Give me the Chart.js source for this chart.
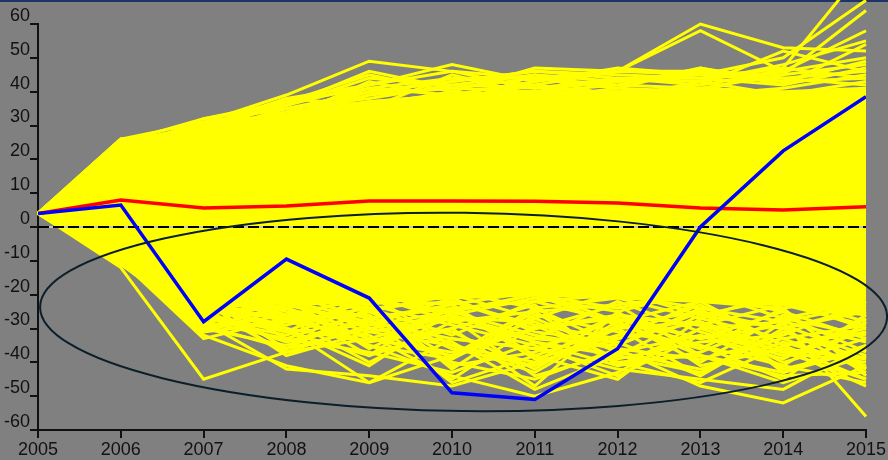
<!DOCTYPE html>
<html>
<head>
<meta charset="utf-8">
<script src="https://cdn.jsdelivr.net/npm/chart.js@4/dist/chart.umd.min.js"></script>
<style>
  html, body { margin: 0; padding: 0; background: #808080; }
  canvas { display: block; }
</style>
</head>
<body>
<canvas id="simChart" width="888" height="460"></canvas>
<script>
const years = [2005, 2006, 2007, 2008, 2009, 2010, 2011, 2012, 2013, 2014, 2015];

// mean of all simulations (red)
const meanPath = [4, 8, 5.6, 6.2, 7.7, 7.7, 7.6, 7.1, 5.6, 5, 6];
// one selected simulation (blue)
const highlightPath = [4, 6.5, -28, -9.5, -21, -49, -51, -36, 0, 22.5, 38.5];

// dense core of the simulations
const coreUpper = [4, 25, 30, 33, 37, 39, 40, 40, 41, 40, 41];
const coreLower = [4, -8, -24, -22, -22, -21, -20, -21, -22, -23, -26];

// simulations above the core
const upperPaths = [
  [4, 26, 31, 39, 49, 46, 44, 46, 45, 43, 44],
  [4, 25, 32, 37, 45, 40, 47, 46, 46, 44, 46],
  [4, 23, 30, 36, 42, 48, 43, 46, 60, 53, 52],
  [4, 22, 29, 34, 41, 44, 42, 46, 58, 46, 58],
  [4, 24, 27, 33, 40, 43, 46, 44, 44, 47, 77],
  [4, 21, 28, 35, 38, 42, 41, 43, 45, 50, 67],
  [4, 20, 31, 33, 39, 41, 44, 42, 41, 45, 64],
  [4, 26, 26, 30, 37, 39, 40, 44, 43, 48, 55],
  [4, 22, 30, 38, 36, 40, 38, 41, 47, 42, 54],
  [4, 19, 27, 32, 43, 38, 42, 39, 42, 52, 46],
  [4, 23, 28, 31, 35, 45, 39, 40, 39, 41, 45],
  [4, 25, 29, 34, 37, 36, 45, 38, 43, 39, 43],
  [4, 24, 30, 36, 44, 42, 45, 43, 46, 45, 48],
  [4, 25, 29, 38, 42, 46, 41, 44, 42, 46, 50],
  [4, 23, 31, 35, 40, 43, 46, 45, 44, 42, 47],
  [4, 26, 28, 37, 41, 39, 43, 47, 45, 44, 42],
  [4, 22, 32, 36, 46, 41, 40, 42, 47, 43, 49],
  [4, 24, 29, 33, 39, 44, 44, 41, 40, 47, 44]
];

// simulations below the core
const lowerPaths = [
  [4, -12, -45, -37, -29, -25, -20, -24, -19, -22, -30],
  [4, -10, -32, -41, -46, -38, -30, -27, -33, -29, -38],
  [4, -9, -28, -42, -44, -47, -40, -33, -22, -35, -45],
  [4, -8, -30, -26, -35, -44, -50, -43, -30, -28, -56],
  [4, -7, -25, -34, -28, -40, -45, -36, -47, -52, -41],
  [4, -11, -27, -30, -46, -33, -36, -42, -45, -48, -35],
  [4, -6, -22, -28, -32, -45, -29, -40, -38, -44, -43],
  [4, -9, -31, -24, -38, -30, -47, -25, -41, -36, -47],
  [4, -5, -20, -33, -25, -36, -41, -30, -28, -40, -33],
  [4, -8, -26, -22, -30, -26, -34, -38, -43, -31, -39],
  [4, -10, -24, -29, -22, -42, -26, -31, -35, -45, -28],
  [4, -7, -29, -20, -27, -23, -38, -45, -27, -33, -42],
  [4, -6, -21, -36, -24, -32, -22, -28, -40, -26, -37],
  [4, -9, -23, -27, -40, -28, -33, -22, -31, -38, -31],
  [4, -8, -19, -25, -33, -38, -24, -35, -25, -42, -36],
  [4, -7, -26, -31, -20, -35, -43, -29, -36, -24, -44],
  [4, -5, -18, -23, -29, -21, -31, -34, -44, -30, -25],
  [4, -10, -33, -27, -26, -41, -37, -26, -29, -37, -40],
  [4, -9, -22, -38, -31, -27, -28, -39, -34, -32, -22],
  [4, -6, -24, -21, -36, -24, -39, -32, -23, -35, -30],
  [4, -8, -24, -30, -34, -27, -44, -37, -32, -41, -46],
  [4, -7, -28, -33, -37, -43, -34, -41, -37, -27, -32],
  [4, -10, -30, -35, -27, -31, -42, -28, -38, -43, -36],
  [4, -6, -21, -26, -35, -39, -27, -37, -42, -34, -41],
  [4, -9, -27, -32, -23, -29, -35, -44, -32, -39, -27],
  [4, -8, -25, -24, -33, -37, -30, -23, -38, -46, -38],
  [4, -11, -29, -36, -30, -34, -48, -38, -26, -30, -43],
  [4, -7, -23, -30, -41, -25, -32, -36, -39, -33, -29],
  [4, -6, -20, -27, -34, -30, -23, -41, -30, -37, -45],
  [4, -9, -26, -34, -27, -46, -38, -30, -44, -28, -34],
  [4, -8, -30, -23, -28, -33, -36, -27, -35, -41, -26],
  [4, -7, -22, -31, -38, -22, -29, -33, -28, -36, -39],
  [4, -10, -31, -28, -24, -39, -25, -40, -46, -35, -31],
  [4, -6, -19, -24, -31, -35, -40, -26, -33, -25, -42],
  [4, -9, -24, -37, -33, -26, -33, -35, -24, -43, -35],
  [4, -8, -20, -24, -19, -26, -21, -25, -19, -27, -22],
  [4, -7, -23, -19, -25, -20, -27, -19, -26, -21, -28],
  [4, -9, -19, -26, -21, -23, -19, -28, -22, -24, -20],
  [4, -6, -25, -21, -23, -19, -24, -21, -27, -19, -26],
  [4, -8, -21, -22, -27, -24, -22, -20, -24, -28, -23],
  [4, -7, -24, -27, -20, -28, -25, -23, -20, -25, -33],
  [4, -9, -22, -20, -24, -22, -30, -26, -29, -23, -29],
  [4, -6, -26, -23, -22, -25, -20, -29, -25, -30, -24]
];

const zeroLine = [0, 0];
const zeroYears = [2005, 2015];

const YELLOW = '#ffff00';
const toPoints = (xs, vals) => xs.map((x, i) => ({ x: x, y: vals[i] }));

const datasets = [];
datasets.push({ data: toPoints(years, highlightPath), borderColor: '#0000ff', borderWidth: 3.5, order: 0 });
datasets.push({ data: toPoints(years, meanPath), borderColor: '#ff0000', borderWidth: 3.5, order: 1 });
datasets.push({ data: toPoints(zeroYears, zeroLine), borderColor: '#000000', borderWidth: 2, borderDash: [11, 4], order: 2 });
datasets.push({ data: toPoints(zeroYears, zeroLine), borderColor: '#c4c4c4', borderWidth: 2, order: 3 });
upperPaths.concat(lowerPaths).forEach(p => {
  datasets.push({ data: toPoints(years, p), borderColor: YELLOW, borderWidth: 3, order: 10, clip: false });
});
const lowerIndex = datasets.length + 1;
datasets.push({ data: toPoints(years, coreUpper), borderColor: YELLOW, borderWidth: 3, backgroundColor: YELLOW,
  fill: { target: lowerIndex }, order: 20 });
datasets.push({ data: toPoints(years, coreLower), borderColor: YELLOW, borderWidth: 3, order: 21 });

// oval marked over the lower part of the chart (in data units)
const oval = { year: 2010.14, value: -25.1, halfYears: 5.115, halfValue: 29.3, tilt: 0.012 };

const backdrop = {
  id: 'backdrop',
  beforeDraw(chart) {
    const c = chart.ctx;
    c.save();
    c.fillStyle = '#808080';
    c.fillRect(0, 0, chart.width, chart.height);
    c.fillStyle = '#1c3466';
    c.fillRect(0, 0, chart.width, 2);
    c.restore();
  }
};

const ovalMark = {
  id: 'ovalMark',
  afterDatasetsDraw(chart) {
    const xs = chart.scales.x, ys = chart.scales.y;
    const cx = xs.getPixelForValue(oval.year);
    const cy = ys.getPixelForValue(oval.value);
    const rx = xs.getPixelForValue(oval.year + oval.halfYears) - cx;
    const ry = cy - ys.getPixelForValue(oval.value + oval.halfValue);
    const c = chart.ctx;
    c.save();
    c.strokeStyle = '#0b1e2a';
    c.lineWidth = 2;
    c.beginPath();
    c.ellipse(cx, cy, rx, ry, oval.tilt, 0, Math.PI * 2);
    c.stroke();
    c.restore();
  }
};

const tickFont = { family: '"Liberation Sans", Arial, sans-serif', size: 18 };
const axisGrid = { drawOnChartArea: false, drawTicks: true, tickLength: 8, color: '#111', lineWidth: 2 };

new Chart(document.getElementById('simChart').getContext('2d'), {
  type: 'line',
  data: { datasets: datasets },
  options: {
    responsive: false,
    animation: false,
    events: [],
    layout: { padding: { top: 24, right: 22, left: 0, bottom: 0 } },
    elements: { point: { radius: 0 }, line: { tension: 0 } },
    plugins: { legend: { display: false }, tooltip: { enabled: false } },
    scales: {
      x: {
        type: 'linear', min: 2005, max: 2015,
        ticks: { stepSize: 1, font: tickFont, color: '#111', padding: 1, maxRotation: 0, callback: v => String(v) },
        grid: axisGrid,
        border: { color: '#111', width: 2 },
        afterFit: s => { s.height = 30; }
      },
      y: {
        min: -60, max: 60,
        ticks: { stepSize: 10, font: tickFont, color: '#111', padding: 0, labelOffset: -8 },
        grid: axisGrid,
        border: { color: '#111', width: 2 },
        afterFit: s => { s.width = 38; }
      }
    }
  },
  plugins: [backdrop, ovalMark]
});
</script>
</body>
</html>
